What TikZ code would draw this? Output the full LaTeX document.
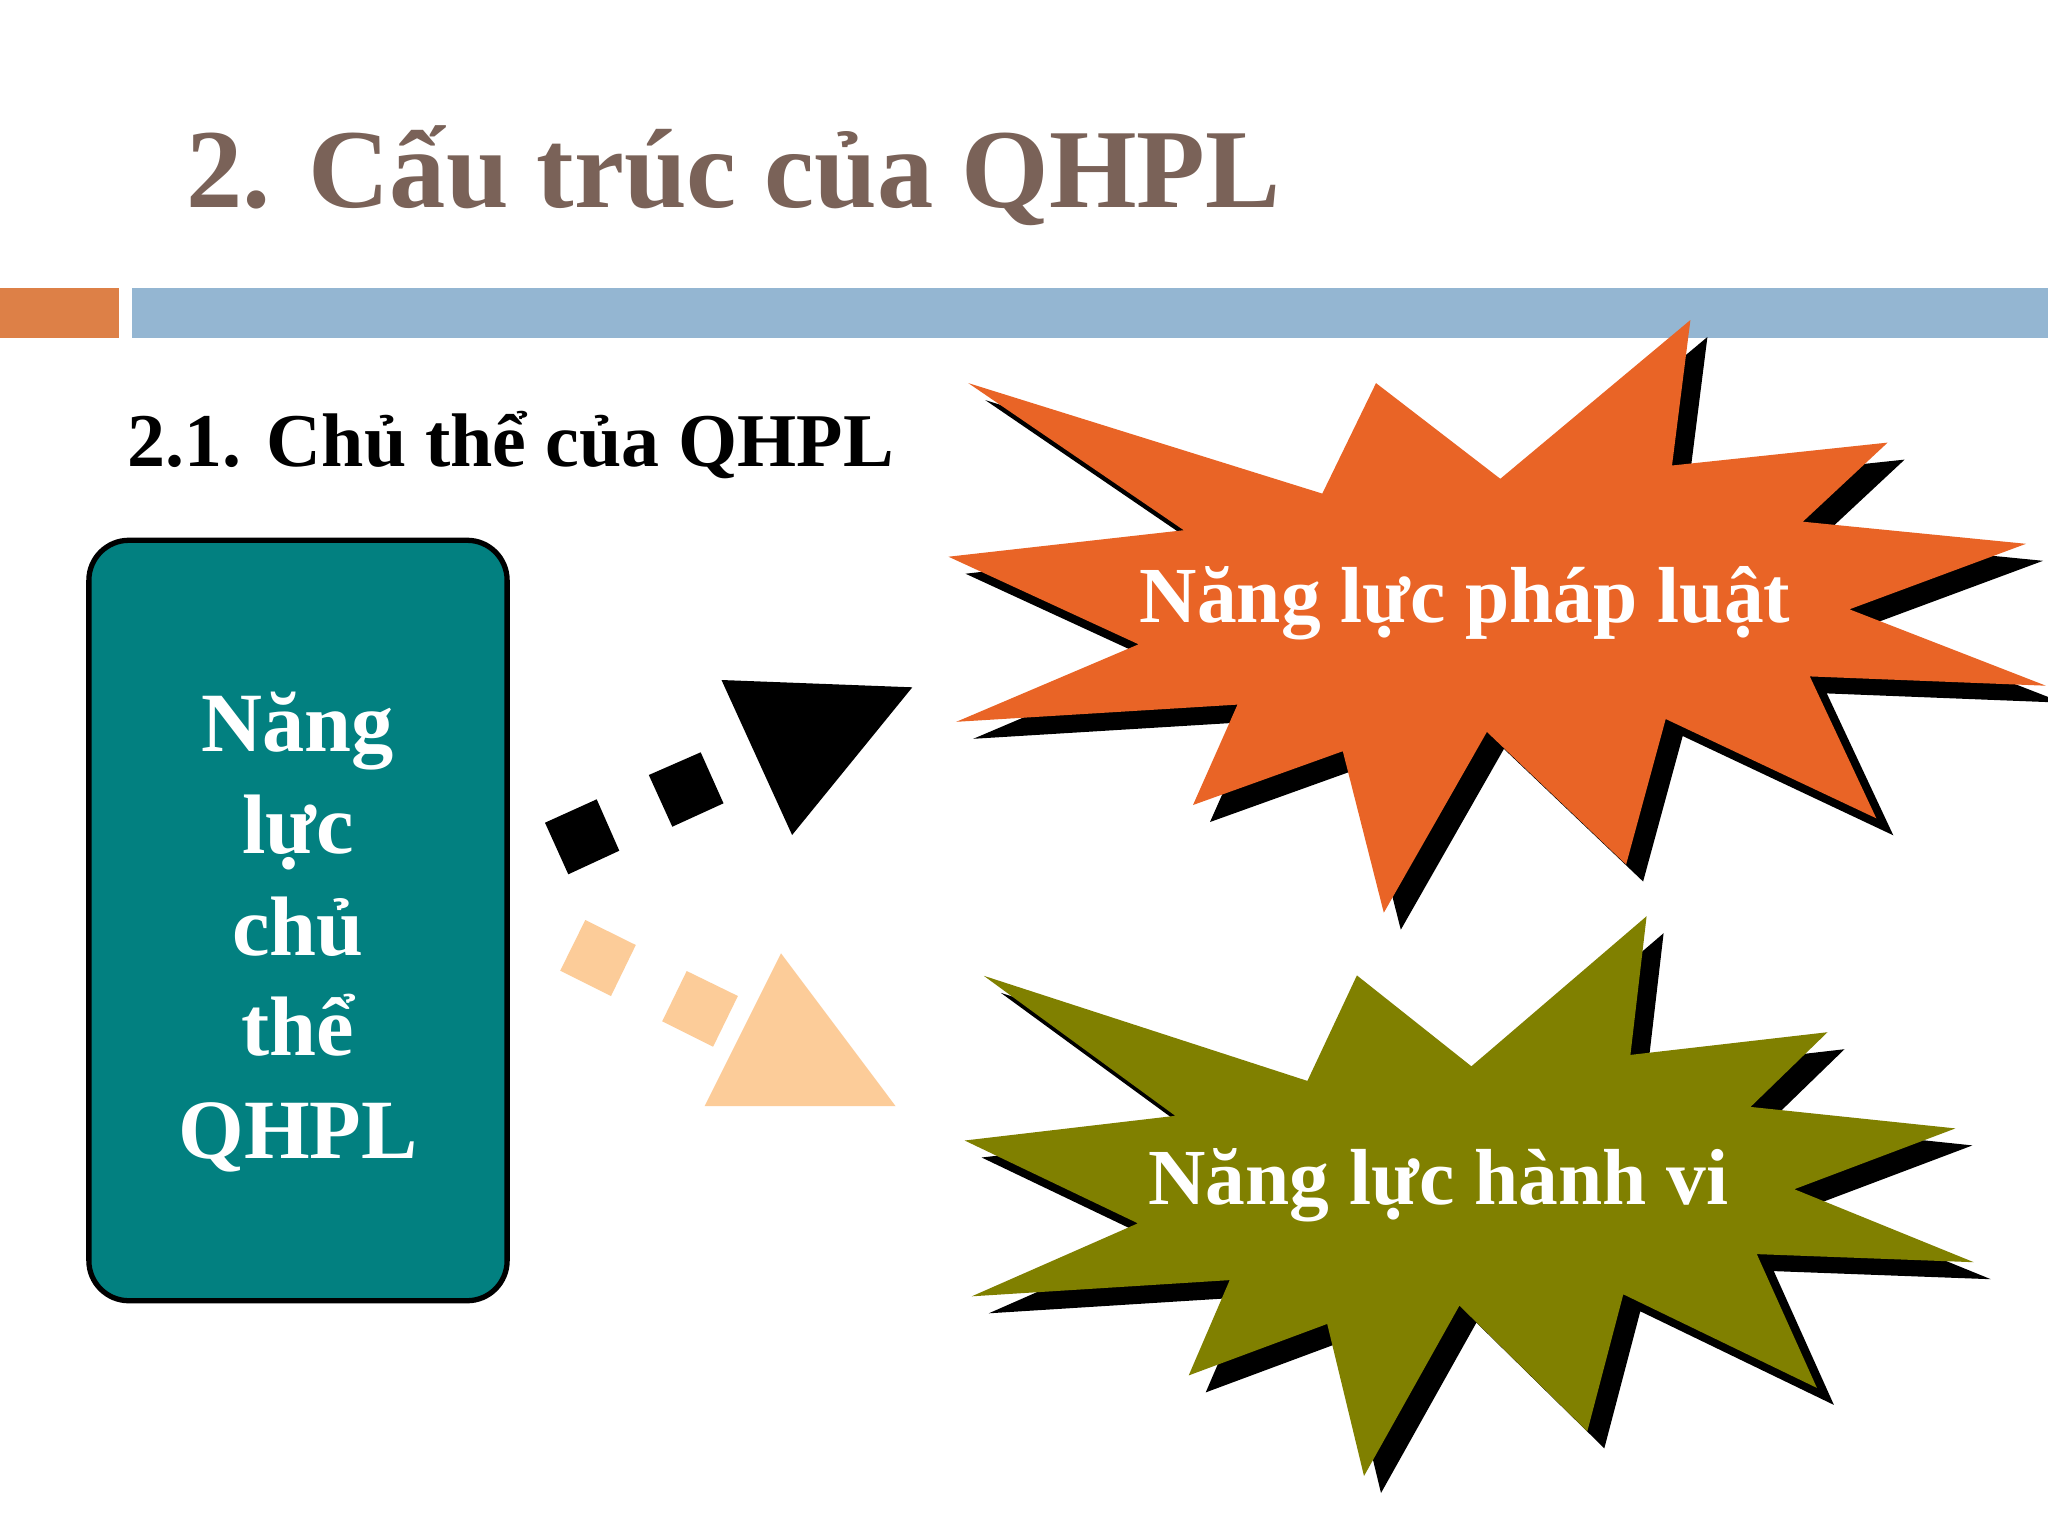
\documentclass[tikz,border=0pt]{standalone}
\usepackage{fontspec}
\setmainfont{Liberation Serif}
\definecolor{titlec}{RGB}{122,98,88}
\definecolor{barorange}{RGB}{221,128,71}
\definecolor{barblue}{RGB}{148,182,210}
\definecolor{boxteal}{RGB}{2,128,128}
\definecolor{starorange}{RGB}{233,100,38}
\definecolor{starolive}{RGB}{128,128,0}
\definecolor{peach}{RGB}{252,204,153}
\tikzset{
  boxtxt/.style={anchor=base, inner sep=0pt, text=white, font=\fontsize{24}{28}\selectfont\bfseries},
  startxt/.style={anchor=base, inner sep=0pt, text=white, font=\fontsize{22.6}{27}\selectfont\bfseries},
}
\begin{document}
\begin{tikzpicture}[x=0.01cm,y=-0.01cm]
\useasboundingbox (0,0) rectangle (2048,1536);
\fill[white] (0,0) rectangle (2048,1536);
% title
\node[anchor=base west, inner sep=0pt, text=titlec, font=\fontsize{32}{38}\selectfont\bfseries] (title) at (186,207) {2. Cấu trúc của QHPL};
% bars
\fill[barorange] (0,288) rectangle (119,338);
\fill[barblue] (132,288) rectangle (2048,338);
% subtitle
\node[anchor=base west, inner sep=0pt, font=\fontsize{21.6}{26}\selectfont\bfseries] (sub) at (127,466) {2.1. Chủ thể của QHPL};
% teal box
\node[draw=black, line width=1.5pt, fill=boxteal, rounded corners=0.4cm, minimum width=4.18cm, minimum height=7.6cm, inner sep=0pt] (box) at (298,920.5) {};
\node[boxtxt] (b1) at (298,751) {Năng};
\node[boxtxt] (b2) at (298,853) {lực};
\node[boxtxt] (b3) at (298,955) {chủ};
\node[boxtxt] (b4) at (298,1055) {thể};
\node[boxtxt] (b5) at (298,1158) {QHPL};
% black arrow
\fill[black] (545,822.7) -- (596.7,799.3) -- (619.3,850.7) -- (568.3,874.3) -- cycle;
\fill[black] (648.8,775) -- (700.7,752.3) -- (723.5,803.3) -- (672.3,826.7) -- cycle;
\fill[black] (721.5,680) -- (912.3,687.3) -- (792.1,835) -- cycle;
% peach arrow
\fill[peach] (585.3,920) -- (635.8,945) -- (611,996) -- (560.2,970.7) -- cycle;
\fill[peach] (686.7,971) -- (737.9,996) -- (713.1,1046.7) -- (662.2,1021.3) -- cycle;
\fill[peach] (781,953.3) -- (895.5,1106) -- (704.7,1106) -- cycle;
% orange star
\foreach \d/\c in {17/black,0/starorange}
\fill[\c, shift={(\d,\d)}] (1690.4,320) -- (1672,465.5) -- (1887.6,442.6) -- (1802.8,521.7) -- (2026,543.8) -- (1849.4,609.3) -- (2045.9,685.7) -- (1809.8,676.4) -- (1876.3,818.3) -- (1665.7,719) -- (1626.1,864.5) -- (1486.9,731.9) -- (1383.8,912.7) -- (1342.8,751.2) -- (1193,805) -- (1237.5,704.6) -- (956.3,721.8) -- (1138.6,644.3) -- (948.5,556.7) -- (1183.8,530.2) -- (968.3,383.1) -- (1322.3,493.6) -- (1376,383.1) -- (1500.3,478.8) -- cycle;
\node[startxt] (s1) at (1465,622) {Năng lực pháp luật};
% olive star
\foreach \d/\c in {17/black,0/starolive}
\fill[\c, shift={(\d,\d)}] (1646.6,916.2) -- (1630.4,1054.9) -- (1827.5,1032.2) -- (1750.5,1106.9) -- (1955.4,1128.4) -- (1794.3,1189.2) -- (1973.8,1262.2) -- (1756.8,1254.1) -- (1816.9,1387.9) -- (1623.3,1294.3) -- (1587.3,1431.3) -- (1459.4,1305.6) -- (1364,1476) -- (1327.2,1323.9) -- (1188.7,1375.4) -- (1229.7,1280.1) -- (971.8,1296.3) -- (1137.9,1223.3) -- (964.7,1140.5) -- (1175.3,1115.8) -- (983.8,975.8) -- (1307.4,1080.9) -- (1356.9,975.4) -- (1471.4,1066.3) -- cycle;
\node[startxt] (s2) at (1438.5,1204) {Năng lực hành vi};
\end{tikzpicture}
\end{document}
